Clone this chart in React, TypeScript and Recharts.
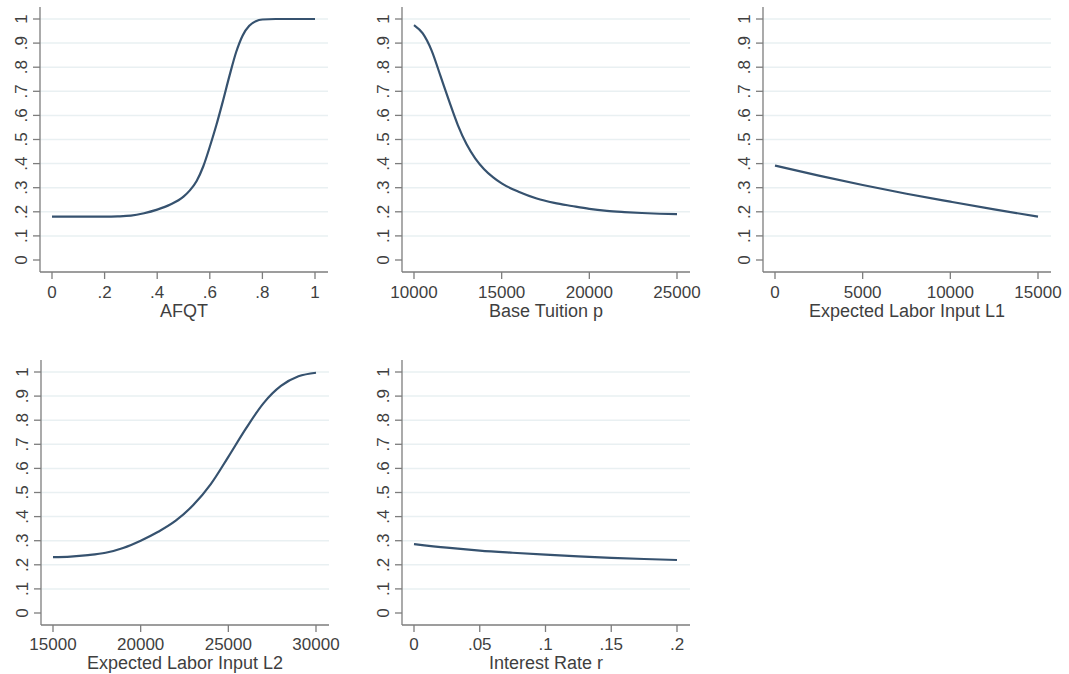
import React from 'react';
import { LineChart, Line, XAxis, YAxis, ReferenceLine } from 'recharts';

// Predicted probability curves, one small panel per covariate
const afqtX = [0, 0.05, 0.1, 0.15, 0.2, 0.25, 0.3, 0.35, 0.4, 0.45, 0.5, 0.525, 0.55, 0.575, 0.6, 0.625, 0.65, 0.675, 0.7, 0.725, 0.75, 0.775, 0.8, 0.85, 0.9, 0.95, 1];
const afqtY = [0.18, 0.18, 0.18, 0.18, 0.18, 0.181, 0.184, 0.194, 0.209, 0.23, 0.263, 0.29, 0.328, 0.388, 0.47, 0.56, 0.66, 0.765, 0.862, 0.932, 0.972, 0.991, 0.998, 1, 1, 1, 1];

const tuitionX = [10000, 10500, 11000, 11500, 12000, 12500, 13000, 13500, 14000, 14500, 15000, 16000, 17000, 18000, 19000, 20000, 21000, 22000, 23000, 24000, 25000];
const tuitionY = [0.975, 0.94, 0.87, 0.766, 0.66, 0.56, 0.48, 0.421, 0.377, 0.344, 0.318, 0.282, 0.255, 0.237, 0.224, 0.212, 0.204, 0.199, 0.195, 0.192, 0.19];

const labor1X = [0, 2500, 5000, 7500, 10000, 12500, 15000];
const labor1Y = [0.392, 0.35, 0.311, 0.275, 0.242, 0.21, 0.18];

const labor2X = [15000, 16000, 17000, 18000, 19000, 20000, 21000, 22000, 23000, 24000, 25000, 26000, 27000, 28000, 29000, 30000];
const labor2Y = [0.232, 0.234, 0.24, 0.25, 0.27, 0.3, 0.337, 0.383, 0.448, 0.535, 0.648, 0.765, 0.87, 0.942, 0.982, 0.997];

const rateX = [0, 0.025, 0.05, 0.075, 0.1, 0.125, 0.15, 0.175, 0.2];
const rateY = [0.286, 0.271, 0.259, 0.25, 0.242, 0.235, 0.229, 0.224, 0.22];

const yTicks = [0, 0.1, 0.2, 0.3, 0.4, 0.5, 0.6, 0.7, 0.8, 0.9, 1];
const gridValues = [0.1, 0.2, 0.3, 0.4, 0.5, 0.6, 0.7, 0.8, 0.9, 1];

const afqtTicks = [0, 0.2, 0.4, 0.6, 0.8, 1];
const tuitionTicks = [10000, 15000, 20000, 25000];
const labor1Ticks = [0, 5000, 10000, 15000];
const labor2Ticks = [15000, 20000, 25000, 30000];
const rateTicks = [0, 0.05, 0.1, 0.15, 0.2];

const FONT = '"Liberation Sans", Arial, sans-serif';
const TEXT = '#3f3f3f';
const AXIS = '#7d7d7d';
const GRID = '#e9f0f2';
const LINE = '#36526f';

// Stata-style labels: drop the leading zero
const fmt = (v: number) => String(v).replace(/^0\./, '.');

const YTick = (props: any) => {
  const { x, y, payload } = props;
  return (
    <text
      transform={`translate(${x},${y}) rotate(-90)`}
      textAnchor="middle"
      fill={TEXT}
      fontSize={17}
      fontFamily={FONT}
    >
      {fmt(payload.value)}
    </text>
  );
};

interface PanelProps {
  left: number;
  top: number;
  xs: number[];
  ys: number[];
  ticks: number[];
  title: string;
  titleOffset: number;
  labelGap: number;
}

function Panel({ left, top, xs, ys, ticks, title, titleOffset, labelGap }: PanelProps) {
  const data = xs.map((x, i) => ({ x, y: ys[i] }));
  return (
    <div style={{ position: 'absolute', left, top }}>
      <LineChart width={340} height={327} data={data} margin={{ top: 7, right: 12, bottom: 0, left: 0 }}>
        {gridValues.map((g) => (
          <ReferenceLine key={g} y={g} stroke={GRID} strokeWidth={1.5} />
        ))}
        <XAxis
          type="number"
          dataKey="x"
          domain={[ticks[0], ticks[ticks.length - 1]]}
          ticks={ticks}
          tickFormatter={fmt}
          padding={{ left: 12, right: 13 }}
          height={55}
          tickSize={7}
          tickMargin={labelGap}
          stroke={AXIS}
          strokeWidth={1.3}
          tick={{ fill: TEXT, fontSize: 17, fontFamily: FONT }}
          label={{ value: title, position: 'insideBottom', offset: titleOffset, fill: TEXT, fontSize: 18, fontFamily: FONT }}
        />
        <YAxis
          type="number"
          domain={[0, 1]}
          ticks={yTicks}
          width={40}
          padding={{ top: 12, bottom: 12 }}
          tickSize={7}
          tickMargin={6}
          stroke={AXIS}
          strokeWidth={1.3}
          tick={<YTick />}
        />
        <Line
          type="monotone"
          dataKey="y"
          stroke={LINE}
          strokeWidth={2.2}
          dot={false}
          isAnimationActive={false}
        />
      </LineChart>
    </div>
  );
}

export default function App() {
  return (
    <div style={{ position: 'absolute', left: 0, top: 0, width: 1069, height: 674, background: '#fff', overflow: 'hidden' }}>
      <Panel left={0} top={0} xs={afqtX} ys={afqtY} ticks={afqtTicks} title="AFQT" titleOffset={10} labelGap={7} />
      <Panel left={362} top={0} xs={tuitionX} ys={tuitionY} ticks={tuitionTicks} title="Base Tuition p" titleOffset={10} labelGap={7} />
      <Panel left={723} top={0} xs={labor1X} ys={labor1Y} ticks={labor1Ticks} title="Expected Labor Input L1" titleOffset={10} labelGap={7} />
      <Panel left={1} top={353} xs={labor2X} ys={labor2Y} ticks={labor2Ticks} title="Expected Labor Input L2" titleOffset={11} labelGap={6} />
      <Panel left={362} top={353} xs={rateX} ys={rateY} ticks={rateTicks} title="Interest Rate r" titleOffset={11} labelGap={6} />
    </div>
  );
}
